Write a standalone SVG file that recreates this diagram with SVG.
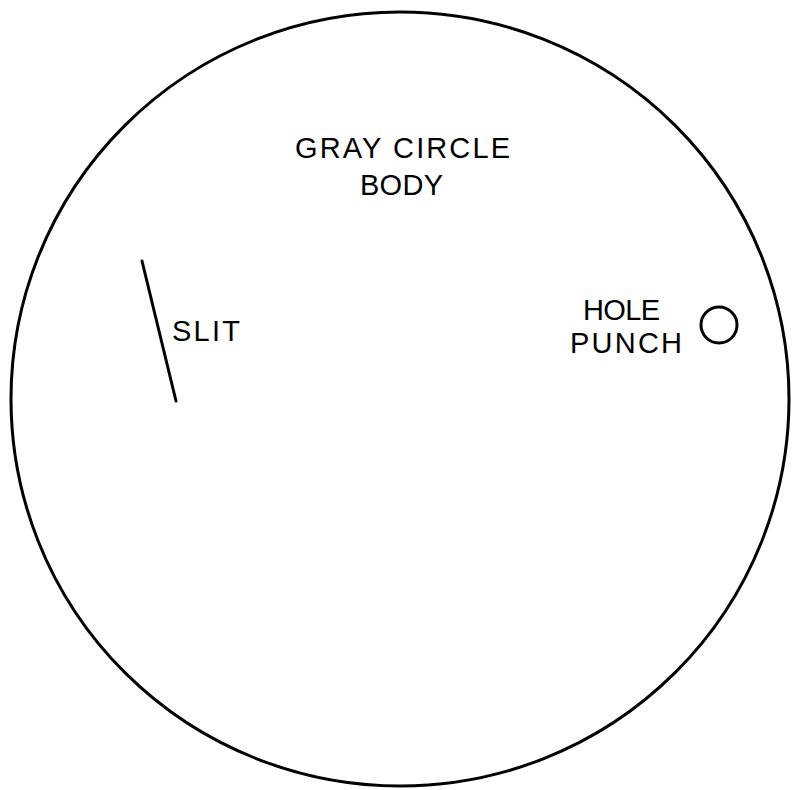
<svg xmlns="http://www.w3.org/2000/svg" width="795" height="790" viewBox="0 0 795 790">
<style>
.ln{fill:none;stroke:#000;stroke-width:3;stroke-linecap:round}
.t{font-family:"Liberation Sans",Arial,sans-serif;font-size:29px;fill:#000}
</style>
<rect width="795" height="790" fill="#fff"/>
<g id="body">
<ellipse class="ln" cx="400" cy="399" rx="389" ry="387"/>
<text class="t" x="295" y="158" textLength="215" lengthAdjust="spacing">GRAY CIRCLE</text>
<text class="t" x="360" y="195" textLength="83" lengthAdjust="spacing">BODY</text>
</g>
<g id="slit">
<line class="ln" x1="142" y1="261" x2="176" y2="401"/>
<text class="t" x="172" y="341" textLength="68" lengthAdjust="spacing">SLIT</text>
</g>
<g id="hole">
<circle class="ln" cx="719" cy="325" r="18" stroke-width="3.5"/>
<text class="t" x="583" y="320" textLength="77" lengthAdjust="spacing">HOLE</text>
<text class="t" x="570" y="353" textLength="112" lengthAdjust="spacing">PUNCH</text>
</g>
</svg>
